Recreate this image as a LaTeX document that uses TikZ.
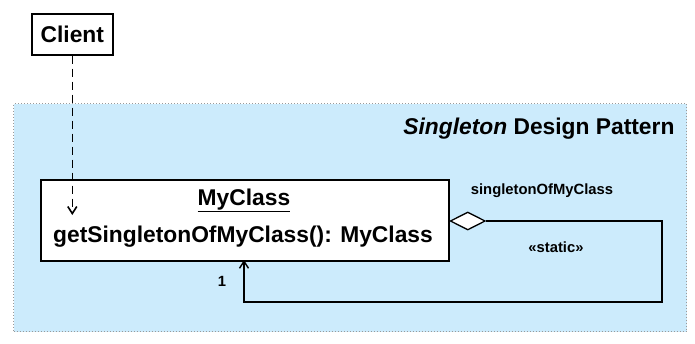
\documentclass[tikz,border=0pt]{standalone}
\usepackage{fontspec}
\setmainfont{Liberation Sans}
\usetikzlibrary{arrows.meta,shapes.geometric}
\definecolor{pkgblue}{HTML}{CCEBFC}
\definecolor{pkgborder}{HTML}{9A9A9A}
\tikzset{
  classbox/.style={draw=black,line width=1.6pt,fill=white,inner sep=0pt,anchor=north west},
  big/.style={font=\fontsize{22.8}{27}\selectfont\bfseries},
  small/.style={font=\fontsize{14.8}{17}\selectfont\bfseries},
  conn/.style={draw=black,line width=1.4pt},
}
\begin{document}
\begin{tikzpicture}[x=1pt,y=-1pt]
\useasboundingbox (0,0) rectangle (695,343);
% package frame
\node[draw=pkgborder,dotted,line width=1pt,fill=pkgblue,minimum width=673pt,minimum height=228pt,inner sep=0pt,anchor=north west] (pkg) at (13,103) {};
\node[big,anchor=base east] (title) at (678,134) {\textit{Singleton} Design Pattern};
% client
\node[classbox,minimum width=81pt,minimum height=41pt,big] (client) at (31,13) {};
\node[big] (clientlbl) at (client.center) {Client};
% MyClass
\node[classbox,minimum width=408pt,minimum height=81pt] (my) at (40,179) {};
\node[big,anchor=base] (myname) at (244,205) {\underline{MyClass}};
\node[big,anchor=base] (myop) at (243,242) {getSingletonOfMyClass(): MyClass};
% diamond
\node[diamond,draw=black,line width=1.3pt,fill=white,minimum width=35pt,minimum height=18pt,inner sep=0pt,anchor=west] (dia) at (my.east |- 0,221) {};
\coordinate (c1) at (662,221);
\coordinate (c2) at (662,302);
\coordinate (c3) at (244,302);
\coordinate (c4) at (244,260);
\draw[conn,-{Straight Barb[length=7pt,width=9pt]}] (dia.east) -- (c1) -- (c2) -- (c3) -- (c4);
\node[small] (role) at (542,191) {singletonOfMyClass};
\node[small] (stat) at (556,247) {«static»};
\node[small] (mult) at (222,281) {1};
% dependency
\coordinate (dtip) at (client.south |- 0,215);
\draw[conn,line width=1.6pt,dash pattern=on 8pt off 5pt,-{Straight Barb[length=7pt,width=9pt]}] (client.south) -- (dtip);
\end{tikzpicture}
\end{document}
